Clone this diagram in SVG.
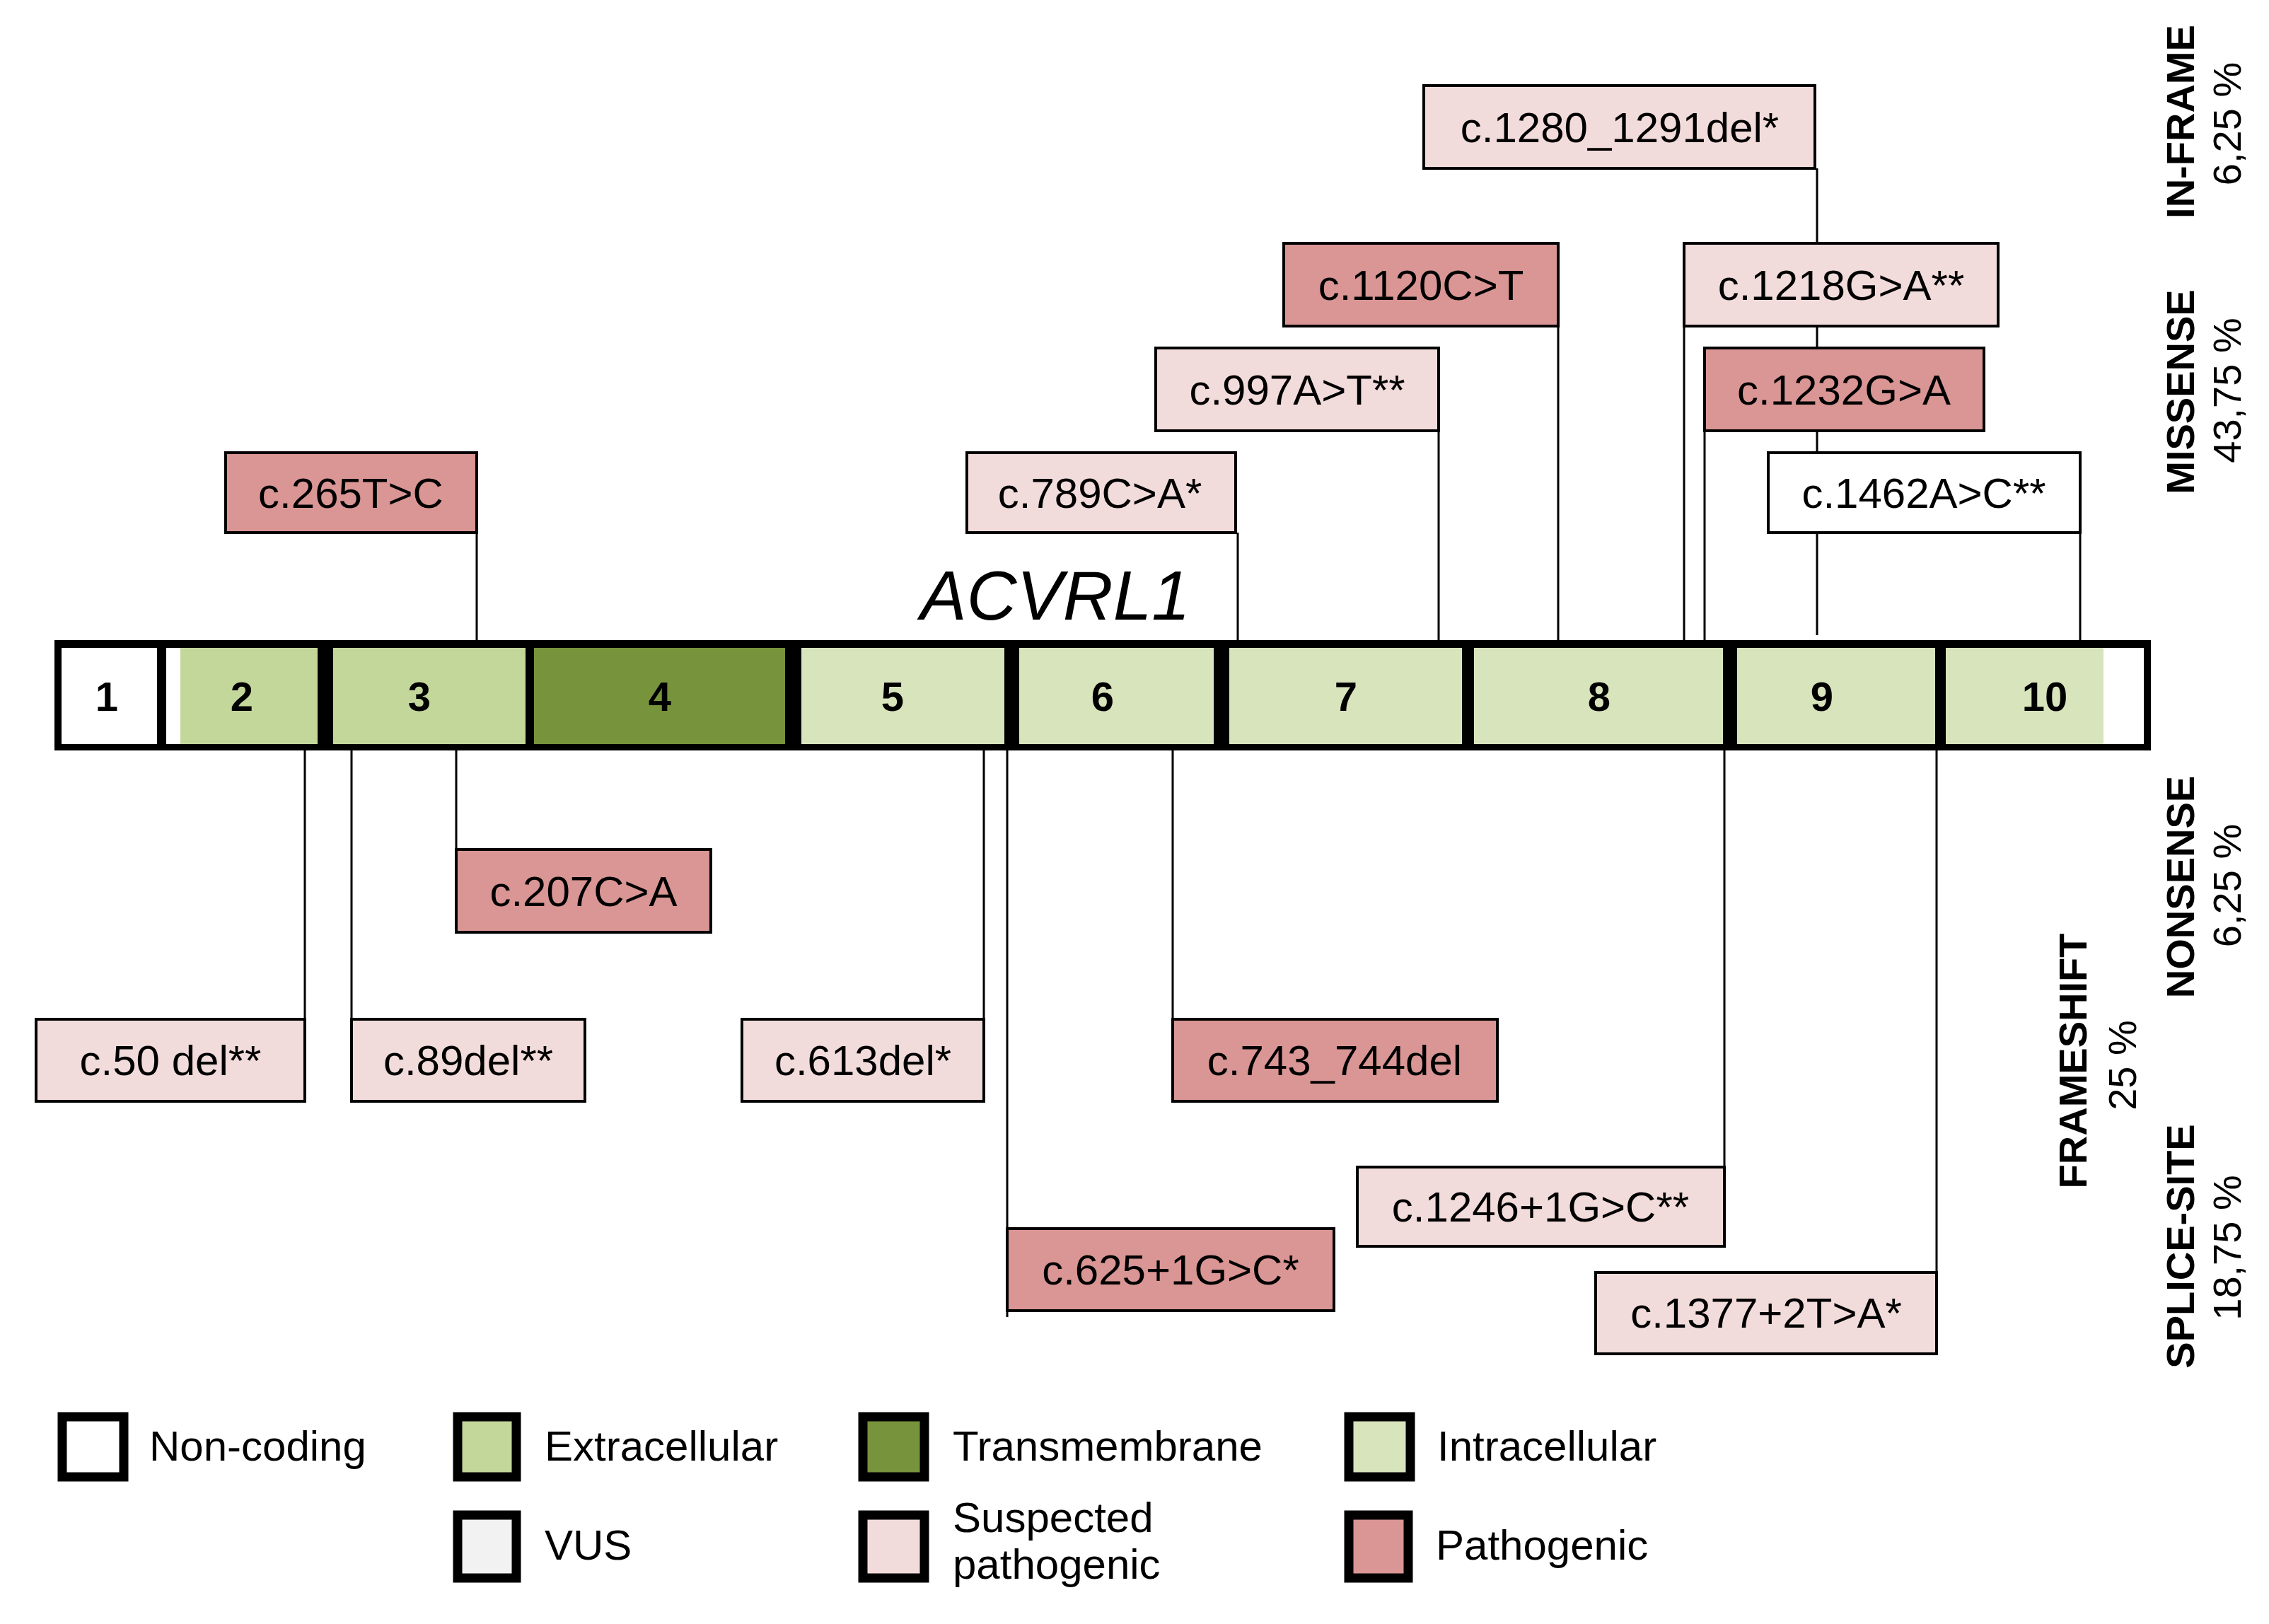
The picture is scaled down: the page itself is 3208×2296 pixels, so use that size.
<svg xmlns="http://www.w3.org/2000/svg" width="3208" height="2296" viewBox="0 0 3208 2296">
<style>
.bx{stroke:#000;stroke-width:4}
.sp{fill:#f2dcdb}.pa{fill:#d99694}.wh{fill:#fff}
.t{font-family:"Liberation Sans",Arial,sans-serif;font-size:60px;fill:#000;text-anchor:middle}
.ex{font-family:"Liberation Sans",Arial,sans-serif;font-size:58px;font-weight:bold;text-anchor:middle}
.lg{font-family:"Liberation Sans",Arial,sans-serif;font-size:60px;fill:#000}
.rb{font-family:"Liberation Sans",Arial,sans-serif;font-size:56px;font-weight:bold;text-anchor:middle}
.rp{font-family:"Liberation Sans",Arial,sans-serif;font-size:56px;text-anchor:middle}
.c{stroke:#000;stroke-width:3;fill:none}
.ls{stroke:#000;stroke-width:13}
</style>
<rect width="3208" height="2296" fill="#fff"/>
<g id="connectors">
<line class="c" x1="2569" y1="238" x2="2569" y2="898" stroke="#555"/>
<line class="c" x1="2203" y1="461" x2="2203" y2="905"/>
<line class="c" x1="2034" y1="609" x2="2034" y2="905"/>
<line class="c" x1="2381" y1="461" x2="2381" y2="905"/>
<line class="c" x1="2410" y1="609" x2="2410" y2="905"/>
<line class="c" x1="2941" y1="753" x2="2941" y2="905"/>
<line class="c" x1="1750" y1="753" x2="1750" y2="905"/>
<line class="c" x1="674" y1="753" x2="674" y2="905"/>
<line class="c" x1="645" y1="1061" x2="645" y2="1201"/>
<line class="c" x1="431" y1="1061" x2="431" y2="1441"/>
<line class="c" x1="497" y1="1061" x2="497" y2="1441"/>
<line class="c" x1="1391" y1="1061" x2="1391" y2="1441"/>
<line class="c" x1="1424" y1="1061" x2="1424" y2="1862"/>
<line class="c" x1="1658" y1="1061" x2="1658" y2="1441"/>
<line class="c" x1="2438" y1="1061" x2="2438" y2="1650"/>
<line class="c" x1="2738" y1="1061" x2="2738" y2="1799"/>
</g>
<g id="gene">
<rect x="77" y="905" width="2964" height="156" fill="#000"/>
<rect x="87" y="916" width="135" height="136" fill="#fff"/>
<rect x="235" y="916" width="20" height="136" fill="#fff"/>
<rect x="255" y="916" width="194" height="136" fill="#c4d79b"/>
<rect x="471" y="916" width="272" height="136" fill="#c4d79b"/>
<rect x="755" y="916" width="355" height="136" fill="#77933c"/>
<rect x="1133" y="916" width="287" height="136" fill="#d8e4bc"/>
<rect x="1441" y="916" width="275" height="136" fill="#d8e4bc"/>
<rect x="1738" y="916" width="329" height="136" fill="#d8e4bc"/>
<rect x="2084" y="916" width="352" height="136" fill="#d8e4bc"/>
<rect x="2456" y="916" width="280" height="136" fill="#d8e4bc"/>
<rect x="2751" y="916" width="223" height="136" fill="#d8e4bc"/>
<rect x="2974" y="916" width="57" height="136" fill="#fff"/>
<text class="ex" x="151" y="1005">1</text>
<text class="ex" x="342" y="1005">2</text>
<text class="ex" x="593" y="1005">3</text>
<text class="ex" x="933" y="1005">4</text>
<text class="ex" x="1262" y="1005">5</text>
<text class="ex" x="1559" y="1005">6</text>
<text class="ex" x="1903" y="1005">7</text>
<text class="ex" x="2261" y="1005">8</text>
<text class="ex" x="2576" y="1005">9</text>
<text class="ex" x="2891" y="1005">10</text>
<text x="1492" y="876" font-family="Liberation Sans, Arial, sans-serif" font-size="98" font-style="italic" text-anchor="middle">ACVRL1</text>
</g>
<g id="v1280"><rect class="bx sp" x="2013" y="121" width="553" height="117"/><text class="t" x="2290" y="201">c.1280_1291del*</text></g>
<g id="v1120"><rect class="bx pa" x="1815" y="344" width="388" height="117"/><text class="t" x="2009" y="424">c.1120C&gt;T</text></g>
<g id="v1218"><rect class="bx sp" x="2381" y="344" width="444" height="117"/><text class="t" x="2603" y="424">c.1218G&gt;A**</text></g>
<g id="v997"><rect class="bx sp" x="1634" y="492" width="400" height="117"/><text class="t" x="1834" y="572">c.997A&gt;T**</text></g>
<g id="v1232"><rect class="bx pa" x="2410" y="492" width="395" height="117"/><text class="t" x="2607" y="572">c.1232G&gt;A</text></g>
<g id="v1462"><rect class="bx wh" x="2500" y="640" width="441" height="113"/><text class="t" x="2720" y="718">c.1462A&gt;C**</text></g>
<g id="v789"><rect class="bx sp" x="1367" y="640" width="380" height="113"/><text class="t" x="1555" y="718">c.789C&gt;A*</text></g>
<g id="v265"><rect class="bx pa" x="319" y="640" width="355" height="113"/><text class="t" x="496" y="718">c.265T&gt;C</text></g>
<g id="v207"><rect class="bx pa" x="645" y="1201" width="360" height="117"/><text class="t" x="825" y="1281">c.207C&gt;A</text></g>
<g id="v50"><rect class="bx sp" x="51" y="1441" width="380" height="116"/><text class="t" x="241" y="1520">c.50 del**</text></g>
<g id="v89"><rect class="bx sp" x="497" y="1441" width="330" height="116"/><text class="t" x="662" y="1520">c.89del**</text></g>
<g id="v613"><rect class="bx sp" x="1049" y="1441" width="342" height="116"/><text class="t" x="1220" y="1520">c.613del*</text></g>
<g id="v743"><rect class="bx pa" x="1658" y="1441" width="459" height="116"/><text class="t" x="1887" y="1520">c.743_744del</text></g>
<g id="v1246"><rect class="bx sp" x="1919" y="1650" width="519" height="112"/><text class="t" x="2178" y="1727">c.1246+1G&gt;C**</text></g>
<g id="v625"><rect class="bx pa" x="1424" y="1737" width="462" height="116"/><text class="t" x="1655" y="1816">c.625+1G&gt;C*</text></g>
<g id="v1377"><rect class="bx sp" x="2256" y="1799" width="482" height="115"/><text class="t" x="2497" y="1877">c.1377+2T&gt;A*</text></g>
<g id="types">
<text class="rb" transform="translate(3102,172) rotate(-90)">IN-FRAME</text>
<text class="rp" transform="translate(3168,175) rotate(-90)">6,25 %</text>
<text class="rb" transform="translate(3102,554) rotate(-90)">MISSENSE</text>
<text class="rp" transform="translate(3168,552) rotate(-90)">43,75 %</text>
<text class="rb" transform="translate(3102,1254) rotate(-90)">NONSENSE</text>
<text class="rp" transform="translate(3168,1252) rotate(-90)">6,25 %</text>
<text class="rb" transform="translate(2950,1500) rotate(-90)">FRAMESHIFT</text>
<text class="rp" transform="translate(3020,1506) rotate(-90)">25 %</text>
<text class="rb" transform="translate(3102,1762) rotate(-90)">SPLICE-SITE</text>
<text class="rp" transform="translate(3168,1764) rotate(-90)">18,75 %</text>
</g>
<g id="legend">
<rect class="ls" x="88" y="2003" width="87" height="85" fill="#fff"/><text class="lg" x="211" y="2065">Non-coding</text>
<rect class="ls" x="647" y="2003" width="83" height="85" fill="#c4d79b"/><text class="lg" x="770" y="2065">Extracellular</text>
<rect class="ls" x="1220" y="2003" width="87" height="85" fill="#77933c"/><text class="lg" x="1347" y="2065">Transmembrane</text>
<rect class="ls" x="1907" y="2003" width="87" height="85" fill="#d8e4bc"/><text class="lg" x="2032" y="2065">Intracellular</text>
<rect class="ls" x="647" y="2142" width="83" height="89" fill="#f2f2f2"/><text class="lg" x="770" y="2205">VUS</text>
<rect class="ls" x="1220" y="2142" width="87" height="89" fill="#f2dcdb"/><text class="lg" x="1347" y="2166">Suspected</text><text class="lg" x="1347" y="2232">pathogenic</text>
<rect class="ls" x="1907" y="2142" width="84" height="89" fill="#d99694"/><text class="lg" x="2030" y="2205">Pathogenic</text>
</g>
</svg>
